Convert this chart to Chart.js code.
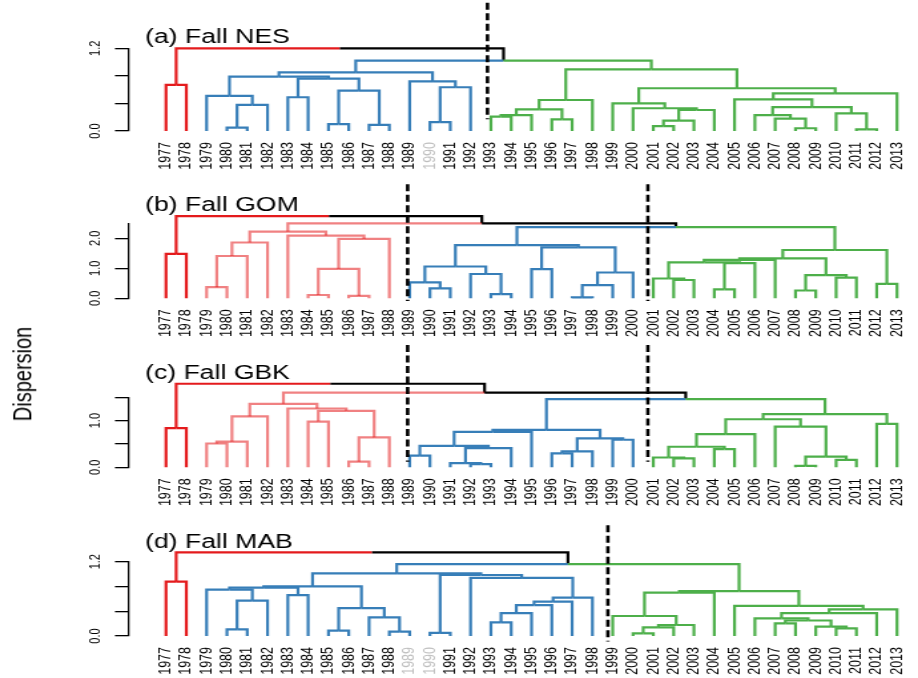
<!DOCTYPE html>
<html>
<head>
<meta charset="utf-8">
<title>Fall dispersion dendrograms</title>
<script src="https://cdn.jsdelivr.net/npm/chart.js@4"></script>
<style>
  html, body { margin: 0; padding: 0; background: #fff; overflow: hidden; }
  /* the figure is laid out on a 690px-wide board and widened to the window */
  #stage { position: absolute; left: 0; top: 0; width: 690px; height: 678px;
           transform: scaleX(1.33043); transform-origin: 0 0; }
  .panel { position: absolute; left: 0; width: 690px; }
  #ylab { position: absolute; left: 17.3px; top: 373.5px; white-space: nowrap;
          transform: translate(-50%, -50%) rotate(-90deg);
          font: 20px "Liberation Sans", Arial, sans-serif; color: #000; }
</style>
</head>
<body>
<div id="stage">
  <div class="panel" id="pa" style="top:0px;height:172px"><canvas id="ca"></canvas></div>
  <div class="panel" id="pb" style="top:172px;height:168px"><canvas id="cb"></canvas></div>
  <div class="panel" id="pc" style="top:340px;height:168px"><canvas id="cc"></canvas></div>
  <div class="panel" id="pd" style="top:508px;height:170px"><canvas id="cd"></canvas></div>
  <div id="ylab">Dispersion</div>
</div>
<script>
// ---------------------------------------------------------------------------
// Data
// ---------------------------------------------------------------------------
const years = [1977, 1978, 1979, 1980, 1981, 1982, 1983, 1984, 1985, 1986,
               1987, 1988, 1989, 1990, 1991, 1992, 1993, 1994, 1995, 1996,
               1997, 1998, 1999, 2000, 2001, 2002, 2003, 2004, 2005, 2006,
               2007, 2008, 2009, 2010, 2011, 2012, 2013];

// Chronologically constrained clustering: height at which the group ending
// with years[i] is fused with the group starting with years[i + 1].
const nesHeights = [0.67, 1.20, 0.51, 0.05, 0.38, 0.79, 0.49, 0.76, 0.10, 0.585,
                    0.09, 0.85, 0.72, 0.13, 0.635, 1.02, 0.21, 0.23, 0.315, 0.17,
                    0.45, 0.895, 0.40, 0.33, 0.07, 0.15, 0.305, 0.62, 0.46, 0.23,
                    0.18, 0.04, 0.345, 0.255, 0.025, 0.545];
const gomHeights = [1.48, 2.74, 0.37, 1.41, 1.86, 2.22, 2.09, 0.11, 0.98, 0.08,
                    1.98, 2.50, 0.53, 0.33, 1.06, 0.81, 0.14, 1.77, 0.97, 1.70,
                    0.03, 0.44, 0.86, 2.37, 0.66, 0.61, 1.20, 0.30, 1.17, 1.28,
                    1.33, 0.26, 0.77, 0.69, 1.61, 0.48];
const gbkHeights = [0.84, 1.79, 0.51, 0.55, 1.09, 1.36, 1.26, 0.98, 1.21, 0.12,
                    0.64, 1.60, 0.25, 0.46, 0.09, 0.07, 0.41, 0.76, 0.80, 0.30,
                    0.34, 0.62, 0.59, 1.46, 0.21, 0.19, 0.44, 0.39, 0.71, 1.03,
                    0.87, 0.03, 0.23, 0.16, 1.14, 0.93];
const mabHeights = [0.877, 1.35, 0.75, 0.108, 0.57, 0.78, 0.66, 0.80, 0.086, 0.45,
                    0.30, 0.07, 1.01, 0.05, 0.985, 0.94, 0.22, 0.37, 0.50, 0.555,
                    0.62, 1.16, 0.323, 0.043, 0.14, 0.178, 0.70, 0.725, 0.485, 0.285,
                    0.205, 0.25, 0.15, 0.124, 0.37, 0.43];

// first year of each regime
const nesRegimes = [1977, 1979, 1993];
const gomRegimes = [1977, 1979, 1989, 2001];
const gbkRegimes = [1977, 1979, 1989, 2001];
const mabRegimes = [1977, 1979, 1999];

// regime shift marks (year position) and their vertical reach (dispersion units)
const nesShifts = [1992.83];
const gomShifts = [1988.9, 2000.73];
const gbkShifts = [1988.9, 2000.73];
const mabShifts = [1998.76];
const nesShiftSpan = [0.17, 1.86];
const gomShiftSpan = [-0.09, 3.8];
const gbkShiftSpan = [0.12, 2.62];
const mabShiftSpan = [-0.09, 1.79];

// years without a full survey
const nesMissing = [1990];
const gomMissing = [];
const gbkMissing = [];
const mabMissing = [1989, 1990];

// dispersion axis ticks
const nesTicks = [0, 0.2, 0.4, 0.6, 0.8, 1.0, 1.2];
const nesTickLabels = ['0.0', '', '', '0.6', '', '', '1.2'];
const gomTicks = [0, 0.5, 1.0, 1.5, 2.0, 2.5];
const gomTickLabels = ['0.0', '', '1.0', '', '2.0', ''];
const gbkTicks = [0, 0.5, 1.0, 1.5];
const gbkTickLabels = ['0.0', '', '1.0', ''];
const mabTicks = [0, 0.2, 0.4, 0.6, 0.8, 1.0, 1.2];
const mabTickLabels = ['0.0', '', '', '0.6', '', '', '1.2'];

// ---------------------------------------------------------------------------
// Styling and layout
// ---------------------------------------------------------------------------
const FONT = '"Liberation Sans", Arial, Helvetica, sans-serif';
const RED = '#E41A1C';
const PINK = 'rgba(228,26,28,0.55)';
const BLUE = '#377EB8';
const GREEN = '#4DAF4A';
const GREY = '#BEBEBE';

const BOARD_W = 690;
const PLOT_LEFT = 96.4;       // x of the dispersion axis line
const PLOT_RIGHT_PAD = 14;
const LEAF_FIRST = 124.77;    // x of the first leaf
const LEAF_STEP = 15.2625;    // distance between leaves
const xMin = years[0] - (LEAF_FIRST - PLOT_LEFT) / LEAF_STEP;
const xMax = years[0] + (BOARD_W - PLOT_RIGHT_PAD - LEAF_FIRST) / LEAF_STEP;

const panels = [
  { canvas: 'ca', title: '(a) Fall NES', heights: nesHeights, regimes: nesRegimes,
    palette: [RED, BLUE, GREEN], shifts: nesShifts, shiftSpan: nesShiftSpan,
    missing: nesMissing, ticks: nesTicks, tickLabels: nesTickLabels,
    box: { top: 0, height: 172, areaTop: 48.3, areaBottom: 131 } },
  { canvas: 'cb', title: '(b) Fall GOM', heights: gomHeights, regimes: gomRegimes,
    palette: [RED, PINK, BLUE, GREEN], shifts: gomShifts, shiftSpan: gomShiftSpan,
    missing: gomMissing, ticks: gomTicks, tickLabels: gomTickLabels,
    box: { top: 172, height: 168, areaTop: 223.3, areaBottom: 298.3 } },
  { canvas: 'cc', title: '(c) Fall GBK', heights: gbkHeights, regimes: gbkRegimes,
    palette: [RED, PINK, BLUE, GREEN], shifts: gbkShifts, shiftSpan: gbkShiftSpan,
    missing: gbkMissing, ticks: gbkTicks, tickLabels: gbkTickLabels,
    box: { top: 340, height: 168, areaTop: 397.3, areaBottom: 467.3 } },
  { canvas: 'cd', title: '(d) Fall MAB', heights: mabHeights, regimes: mabRegimes,
    palette: [RED, BLUE, GREEN], shifts: mabShifts, shiftSpan: mabShiftSpan,
    missing: mabMissing, ticks: mabTicks, tickLabels: mabTickLabels,
    box: { top: 508, height: 170, areaTop: 561.7, areaBottom: 636 } }
];

// ---------------------------------------------------------------------------
// Dendrogram construction
// ---------------------------------------------------------------------------
// Leaves stay in chronological order; every node sits midway between its children.
function buildTree(heights, lo, hi) {
  if (lo === hi) return { x: years[lo], h: 0, lo, hi };
  let k = lo;
  for (let i = lo; i < hi; i++) if (heights[i] > heights[k]) k = i;
  const left = buildTree(heights, lo, k);
  const right = buildTree(heights, k + 1, hi);
  return { x: (left.x + right.x) / 2, h: heights[k], lo, hi, left, right };
}

function treeDatasets(p) {
  const root = buildTree(p.heights, 0, years.length - 1);
  const regimeOf = i => {
    let r = 0;
    p.regimes.forEach((y, j) => { if (years[i] >= y) r = j; });
    return r;
  };
  const colourOf = node => {
    const a = regimeOf(node.lo), b = regimeOf(node.hi);
    return a === b ? p.palette[a] : '#000';
  };
  const base = { pointRadius: 0, pointHitRadius: 0, fill: false, clip: false,
                 tension: 0, borderCapStyle: 'butt', borderJoinStyle: 'miter' };
  const out = [];
  let seq = 0;
  (function walk(node) {
    if (!node.left) return;
    [node.left, node.right].forEach(child => {
      out.push(Object.assign({}, base, {
        data: [{ x: node.x, y: node.h }, { x: child.x, y: node.h }, { x: child.x, y: child.h }],
        borderColor: colourOf(child), borderWidth: 2.2, order: -(seq++)
      }));
    });
    walk(node.left);
    walk(node.right);
  })(root);
  p.shifts.forEach(s => {
    out.push(Object.assign({}, base, {
      data: [{ x: s, y: p.shiftSpan[1] }, { x: s, y: p.shiftSpan[0] }],
      borderColor: '#000', borderWidth: 2.6, borderDash: [7, 3.5], order: -100000
    }));
  });
  return { datasets: out, top: Math.max(...p.heights) * 1.04 };
}

// panel caption placed at the top of the plotting region
const panelTitle = {
  id: 'panelTitle',
  afterDraw(chart, args, opts) {
    const { ctx, chartArea, scales } = chart;
    ctx.save();
    ctx.font = '20px ' + FONT;
    ctx.fillStyle = '#000';
    ctx.textAlign = 'left';
    ctx.textBaseline = 'alphabetic';
    ctx.fillText(opts.text, chartArea.left + 12.6, scales.y.getPixelForValue(opts.top) - 1.5);
    ctx.restore();
  }
};

panels.forEach(p => {
  const tree = treeDatasets(p);
  const b = p.box;
  new Chart(document.getElementById(p.canvas), {
    type: 'line',
    data: { datasets: tree.datasets },
    options: {
      responsive: true,
      maintainAspectRatio: false,
      animation: false,
      events: [],
      layout: { padding: { top: b.areaTop - b.top, right: PLOT_RIGHT_PAD, bottom: 0, left: 0 } },
      plugins: {
        legend: { display: false },
        tooltip: { enabled: false },
        panelTitle: { text: p.title, top: tree.top }
      },
      scales: {
        x: {
          type: 'linear', min: xMin, max: xMax,
          grid: { display: false, drawTicks: false },
          border: { display: false },
          afterBuildTicks: s => { s.ticks = years.map(v => ({ value: v })); },
          afterFit: s => {
            s.height = b.top + b.height - b.areaBottom;
            s.paddingLeft = 0; s.paddingRight = 0;
          },
          ticks: {
            autoSkip: false, minRotation: 90, maxRotation: 90, padding: 11,
            font: { family: FONT, size: 12.5 },
            color: ctx => (p.missing.includes(ctx.tick.value) ? GREY : '#000'),
            callback: v => String(v)
          }
        },
        y: {
          type: 'linear', min: 0, max: p.ticks[p.ticks.length - 1],
          afterBuildTicks: s => { s.ticks = p.ticks.map(v => ({ value: v })); },
          afterFit: s => {
            s.width = PLOT_LEFT;
            s.paddingTop = 0; s.paddingBottom = 0;
          },
          grid: { drawOnChartArea: false, drawTicks: true, tickLength: 10, color: '#000', lineWidth: 1.3 },
          border: { display: true, color: '#000', width: 1.3 },
          ticks: {
            minRotation: 90, crossAlign: 'center', padding: 7,
            font: { family: FONT, size: 11 }, color: '#000',
            callback: (v, i) => p.tickLabels[i]
          }
        }
      }
    },
    plugins: [panelTitle]
  });
});
</script>
</body>
</html>
